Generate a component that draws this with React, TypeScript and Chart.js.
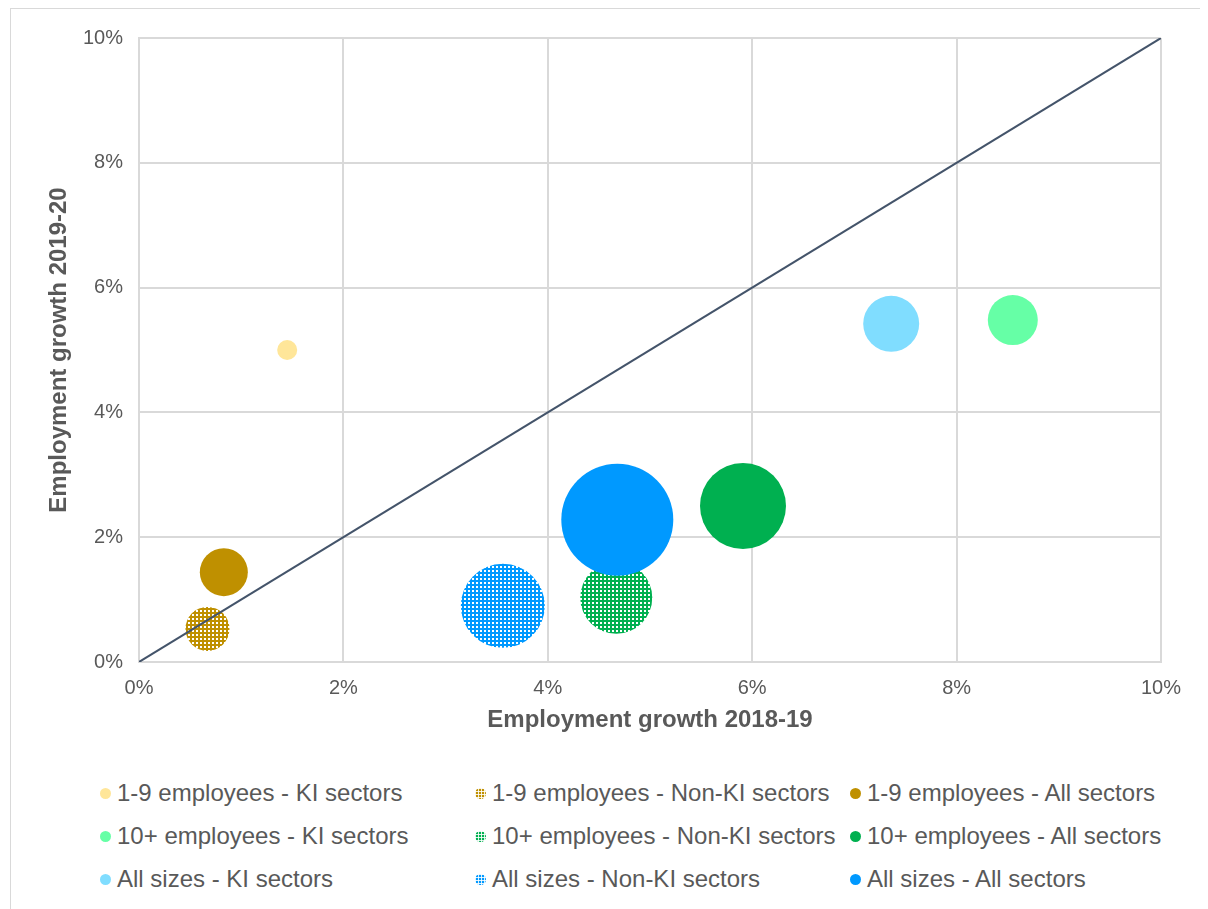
import React, { useEffect, useRef } from "react";
import { Chart, registerables } from "chart.js";
Chart.register(...registerables);

const seriesNames = [
  "1-9 employees - KI sectors",
  "1-9 employees - Non-KI sectors",
  "1-9 employees - All sectors",
  "10+ employees - KI sectors",
  "10+ employees - Non-KI sectors",
  "10+ employees - All sectors",
  "All sizes - KI sectors",
  "All sizes - Non-KI sectors",
  "All sizes - All sectors",
];
const growth1819 = [1.45, 0.67, 0.83, 8.55, 4.67, 5.91, 7.36, 3.56, 4.68];
const growth1920 = [5.0, 0.53, 1.44, 5.48, 1.03, 2.5, 5.42, 0.9, 2.28];
const bubbleSizes = [10, 22, 24, 25, 36, 43, 28, 42, 56];
const seriesColors = [
  "#FFE699", "#BF9000", "#BF9000",
  "#66FFA6", "#00B050", "#00B050",
  "#80DDFF", "#0099FF", "#0099FF",
];
const patterned = [false, true, false, false, true, false, false, true, false];
const diagonalX = [0, 10];
const diagonalY = [0, 10];

const FONT = "'Liberation Sans', Arial, sans-serif";
const TEXT = "#595959";
const GRID = "#D9D9D9";

function makePattern(color: string): CanvasPattern | string {
  const c = document.createElement("canvas");
  c.width = 4;
  c.height = 4;
  const ctx = c.getContext("2d");
  if (!ctx) return color;
  ctx.fillStyle = color;
  ctx.fillRect(0, 0, 4, 4);
  ctx.fillStyle = "#FFFFFF";
  ctx.fillRect(1, 1, 2, 2);
  const p = ctx.createPattern(c, "repeat");
  return p || color;
}

export default function App() {
  const ref = useRef<HTMLCanvasElement>(null);
  useEffect(() => {
    if (!ref.current) return;
    const bubbleSets = seriesNames.map((name, i) => ({
      type: "bubble" as const,
      label: name,
      data: [{ x: growth1819[i], y: growth1920[i], r: bubbleSizes[i] }],
      backgroundColor: patterned[i] ? makePattern(seriesColors[i]) : seriesColors[i],
      borderWidth: 0,
      order: 9 - i,
      clip: false,
    }));
    const lineSet = {
      type: "line" as const,
      label: "diagonal",
      data: diagonalX.map((x, i) => ({ x, y: diagonalY[i] })),
      borderColor: "#44546A",
      borderWidth: 2,
      pointRadius: 0,
      fill: false,
      order: -1,
    };
    const chart = new Chart(ref.current, {
      type: "bubble",
      data: { datasets: [...bubbleSets, lineSet] as any },
      options: {
        animation: false,
        responsive: false,
        events: [],
        layout: { autoPadding: false, padding: { left: 0, right: 40, top: 29, bottom: 0 } },
        plugins: { legend: { display: false }, tooltip: { enabled: false } },
        scales: {
          x: {
            type: "linear",
            min: 0,
            max: 10,
            ticks: {
              stepSize: 2,
              color: TEXT,
              font: { family: FONT, size: 20 },
              padding: 14,
              callback: (v: any) => v + "%",
            },
            grid: { color: GRID, lineWidth: 2, drawTicks: false },
            border: { color: GRID, width: 2 },
            title: {
              display: true,
              text: "Employment growth 2018-19",
              color: TEXT,
              font: { family: FONT, size: 24, weight: "bold" },
              padding: { top: 0, bottom: 14 },
            },
            afterFit: (s: any) => {
              s.height = 87;
            },
          },
          y: {
            type: "linear",
            min: 0,
            max: 10,
            ticks: {
              stepSize: 2,
              color: TEXT,
              font: { family: FONT, size: 20 },
              padding: 16,
              callback: (v: any) => v + "%",
            },
            grid: { color: GRID, lineWidth: 2, drawTicks: false },
            border: { color: GRID, width: 2 },
            title: {
              display: true,
              text: "Employment growth 2019-20",
              color: TEXT,
              font: { family: FONT, size: 24, weight: "bold" },
              padding: { top: 34, bottom: 0 },
            },
            afterFit: (s: any) => {
              s.width = 128;
            },
          },
        },
      } as any,
    });
    return () => chart.destroy();
  }, []);

  const colLeft = [94, 469, 844];
  const rowTop = [784, 827, 870];

  return (
    <div
      style={{
        position: "relative",
        marginLeft: 2,
        width: 1200,
        height: 910,
        border: "1px solid #D9D9D9",
        boxSizing: "content-box",
        fontFamily: FONT,
      }}
    >
      <canvas
        ref={ref}
        width={1190}
        height={740}
        style={{ position: "absolute", left: 0, top: 0, width: 1190, height: 740 }}
      />
      {seriesNames.map((name, i) => {
        const col = i % 3;
        const row = Math.floor(i / 3);
        const markerStyle: React.CSSProperties = {
          position: "absolute",
          left: colLeft[col] - 5.5,
          top: rowTop[row] - 5.5,
          width: 11,
          height: 11,
          borderRadius: "50%",
          backgroundColor: seriesColors[i],
        };
        if (patterned[i]) {
          markerStyle.backgroundImage =
            "linear-gradient(rgba(255,255,255,0.85) 1px, transparent 1px), linear-gradient(90deg, rgba(255,255,255,0.85) 1px, transparent 1px)";
          markerStyle.backgroundSize = "3px 3px";
        }
        return (
          <React.Fragment key={name}>
            <div style={markerStyle} />
            <div
              style={{
                position: "absolute",
                left: colLeft[col] + 12,
                top: rowTop[row] - 14,
                height: 28,
                lineHeight: "28px",
                fontSize: 24,
                color: TEXT,
                whiteSpace: "nowrap",
              }}
            >
              {name}
            </div>
          </React.Fragment>
        );
      })}
    </div>
  );
}
